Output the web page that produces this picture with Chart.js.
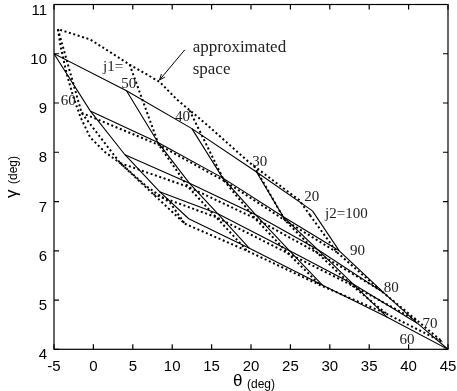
<!DOCTYPE html>
<html><head><meta charset="utf-8">
<script src="https://cdn.jsdelivr.net/npm/chart.js@4.4.0/dist/chart.umd.min.js"></script>
<style>html,body{margin:0;padding:0;background:#fff}#wrap{width:457px;height:391px}</style>
</head><body><div id="wrap"><canvas id="c" width="457" height="391"></canvas></div>
<script>
// ---------- data ----------
const j1Values = [60, 50, 40, 30, 20];      // columns
const j2Values = [100, 90, 80, 70, 60];     // rows
const xTickValues = [-5, 0, 5, 10, 15, 20, 25, 30, 35, 40, 45];
const yTickValues = [4, 5, 6, 7, 8, 9, 10, 11];

// exact mapping (solid): one row per j2, entries for j1 = 60..20
const exactTheta = [
  [-5.0, 4.2, 12.5, 20.7, 27.8],
  [-0.4, 8.2, 16.4, 24.1, 31.2],
  [ 4.0, 12.2, 20.6, 28.5, 36.9],
  [ 8.4, 15.8, 24.9, 33.0, 41.1],
  [12.1, 19.8, 29.1, 37.3, 45.0]
];
const exactGamma = [
  [10.0, 9.25, 8.48, 7.60, 6.81],
  [8.84, 8.20, 7.48, 6.69, 6.00],
  [7.95, 7.37, 6.73, 6.02, 5.14],
  [7.20, 6.75, 6.00, 5.32, 4.53],
  [6.65, 6.05, 5.30, 4.65, 4.00]
];
// approximated mapping (dotted)
const approxTheta = [
  [-4.5, 4.6, 12.2, 20.4, 27.5],
  [-1.5, 8.3, 16.6, 24.3, 30.9],
  [ 3.4, 12.0, 20.5, 28.4, 36.4],
  [ 7.6, 15.6, 24.7, 32.8, 41.2],
  [11.6, 19.5, 28.8, 37.2, 44.3]
];
const approxGamma = [
  [10.5, 9.78, 8.85, 7.72, 6.72],
  [8.80, 8.15, 7.42, 6.62, 5.97],
  [7.78, 7.30, 6.66, 5.96, 5.20],
  [7.15, 6.68, 5.95, 5.30, 4.57],
  [6.55, 6.00, 5.30, 4.72, 4.15]
];
// outline of the approximated space
const spaceTheta = [27.5, 26.1, 19.8, 14.4, 10.6, 8.4, 4.6, -0.4, -4.5, -4.1, -3.4, -2.6, -1.6, -0.4, 1.5, 3.4, 6.8, 9.7, 11.6];
const spaceGamma = [6.72, 7.03, 7.79, 8.56, 9.07, 9.43, 9.78, 10.29, 10.5, 10.1, 9.6, 9.15, 8.7, 8.3, 8.0, 7.78, 7.3, 6.98, 6.55];

// ---------- datasets ----------
function pts(xs, ys) { return xs.map((x, i) => ({ x: x, y: ys[i] })); }
const solidStyle = { borderColor: '#000', borderWidth: 1.1, pointRadius: 0, showLine: true, fill: false, tension: 0 };
const dotStyle = { borderColor: '#000', borderWidth: 2, borderDash: [2, 2.6], pointRadius: 0, showLine: true, fill: false, tension: 0 };
const datasets = [];
for (let r = 1; r < j2Values.length; r++) {
  datasets.push(Object.assign({ label: 'approx j2=' + j2Values[r], data: pts(approxTheta[r], approxGamma[r]) }, dotStyle));
}
for (let c = 0; c < j1Values.length; c++) {
  datasets.push(Object.assign({ label: 'approx j1=' + j1Values[c], data: pts(approxTheta.map(r => r[c]), approxGamma.map(r => r[c])) }, dotStyle));
}
datasets.push(Object.assign({ label: 'approximated space', data: pts(spaceTheta, spaceGamma) }, dotStyle));
for (let r = 0; r < j2Values.length; r++) {
  datasets.push(Object.assign({ label: 'j2=' + j2Values[r], data: pts(exactTheta[r], exactGamma[r]) }, solidStyle));
}
for (let c = 0; c < j1Values.length; c++) {
  datasets.push(Object.assign({ label: 'j1=' + j1Values[c], data: pts(exactTheta.map(r => r[c]), exactGamma.map(r => r[c])) }, solidStyle));
}

// ---------- annotations (drawn at data coordinates) ----------
const annotations = [
  { t: 'j1=', x: 2.5, y: 9.73 },
  { t: '50', x: 4.5, y: 9.39 },
  { t: '60', x: -3.2, y: 9.04 },
  { t: '40', x: 11.3, y: 8.72 },
  { t: '30', x: 21.1, y: 7.80 },
  { t: '20', x: 27.7, y: 7.09 },
  { t: 'j2=100', x: 32.1, y: 6.74 },
  { t: '90', x: 33.5, y: 5.99 },
  { t: '80', x: 37.8, y: 5.24 },
  { t: '70', x: 42.7, y: 4.51 },
  { t: '60', x: 39.8, y: 4.18 }
];

const framePlugin = {
  id: 'frame',
  afterDraw(chart) {
    const ctx = chart.ctx, a = chart.chartArea, xs = chart.scales.x, ys = chart.scales.y;
    ctx.save();
    ctx.strokeStyle = '#000';
    ctx.lineWidth = 1.2;
    ctx.strokeRect(a.left, a.top, a.right - a.left, a.bottom - a.top);
    const L = 5;
    ctx.beginPath();
    xTickValues.forEach(v => {
      const p = xs.getPixelForValue(v);
      ctx.moveTo(p, a.bottom); ctx.lineTo(p, a.bottom - L);
      ctx.moveTo(p, a.top); ctx.lineTo(p, a.top + L);
    });
    yTickValues.forEach(v => {
      const p = ys.getPixelForValue(v);
      ctx.moveTo(a.left, p); ctx.lineTo(a.left + L, p);
      ctx.moveTo(a.right, p); ctx.lineTo(a.right - L, p);
    });
    ctx.stroke();

    ctx.fillStyle = '#222';
    ctx.font = '15px "Liberation Serif", "DejaVu Serif", serif';
    ctx.textAlign = 'center';
    ctx.textBaseline = 'middle';
    annotations.forEach(o => ctx.fillText(o.t, xs.getPixelForValue(o.x), ys.getPixelForValue(o.y)));

    ctx.font = '17px "Liberation Serif", "DejaVu Serif", serif';
    ctx.textAlign = 'left';
    ctx.fillText('approximated', xs.getPixelForValue(12.6), ys.getPixelForValue(10.12));
    ctx.fillText('space', xs.getPixelForValue(12.6), ys.getPixelForValue(9.67));
    const ax0 = xs.getPixelForValue(11.6), ay0 = ys.getPixelForValue(10.08);
    const ax1 = xs.getPixelForValue(8.4), ay1 = ys.getPixelForValue(9.47);
    ctx.lineWidth = 1;
    ctx.beginPath(); ctx.moveTo(ax0, ay0); ctx.lineTo(ax1, ay1); ctx.stroke();
    const ang = Math.atan2(ay1 - ay0, ax1 - ax0), h = 6;
    ctx.beginPath();
    ctx.moveTo(ax1 - h * Math.cos(ang - 0.4), ay1 - h * Math.sin(ang - 0.4));
    ctx.lineTo(ax1, ay1);
    ctx.lineTo(ax1 - h * Math.cos(ang + 0.4), ay1 - h * Math.sin(ang + 0.4));
    ctx.stroke();

    ctx.fillStyle = '#000';
    ctx.textBaseline = 'alphabetic';
    ctx.font = '17px "Liberation Sans", Arial, sans-serif';
    ctx.fillText('θ', 233, 386);
    ctx.font = '12px "Liberation Sans", Arial, sans-serif';
    ctx.fillText('(deg)', 247, 388);
    ctx.translate(17, 198);
    ctx.rotate(-Math.PI / 2);
    ctx.font = '17px "Liberation Sans", Arial, sans-serif';
    ctx.fillText('γ', 0, 0);
    ctx.font = '12px "Liberation Sans", Arial, sans-serif';
    ctx.fillText('(deg)', 14, 0);
    ctx.restore();
  }
};

new Chart(document.getElementById('c'), {
  type: 'scatter',
  data: { datasets: datasets },
  options: {
    responsive: false,
    devicePixelRatio: 1,
    animation: false,
    layout: { padding: { top: 4.5, right: 9, left: 0, bottom: 0 } },
    plugins: { legend: { display: false }, tooltip: { enabled: false } },
    scales: {
      x: {
        type: 'linear', min: -5, max: 45,
        afterBuildTicks: s => { s.ticks = xTickValues.map(v => ({ value: v })); },
        afterFit: s => { s.height = 41.7; s.paddingLeft = 0; s.paddingRight = 0; },
        grid: { display: false, drawTicks: false },
        border: { display: false },
        ticks: { color: '#000', padding: 9, font: { family: '"Liberation Sans", Arial, sans-serif', size: 15 } }
      },
      y: {
        type: 'linear', min: 4, max: 11,
        afterBuildTicks: s => { s.ticks = yTickValues.map(v => ({ value: v })); },
        afterFit: s => { s.width = 54; s.paddingTop = 0; s.paddingBottom = 0; },
        grid: { display: false, drawTicks: false },
        border: { display: false },
        ticks: { color: '#000', padding: 7, labelOffset: 6, font: { family: '"Liberation Sans", Arial, sans-serif', size: 15 } }
      }
    }
  },
  plugins: [framePlugin]
});
</script>
</body></html>
